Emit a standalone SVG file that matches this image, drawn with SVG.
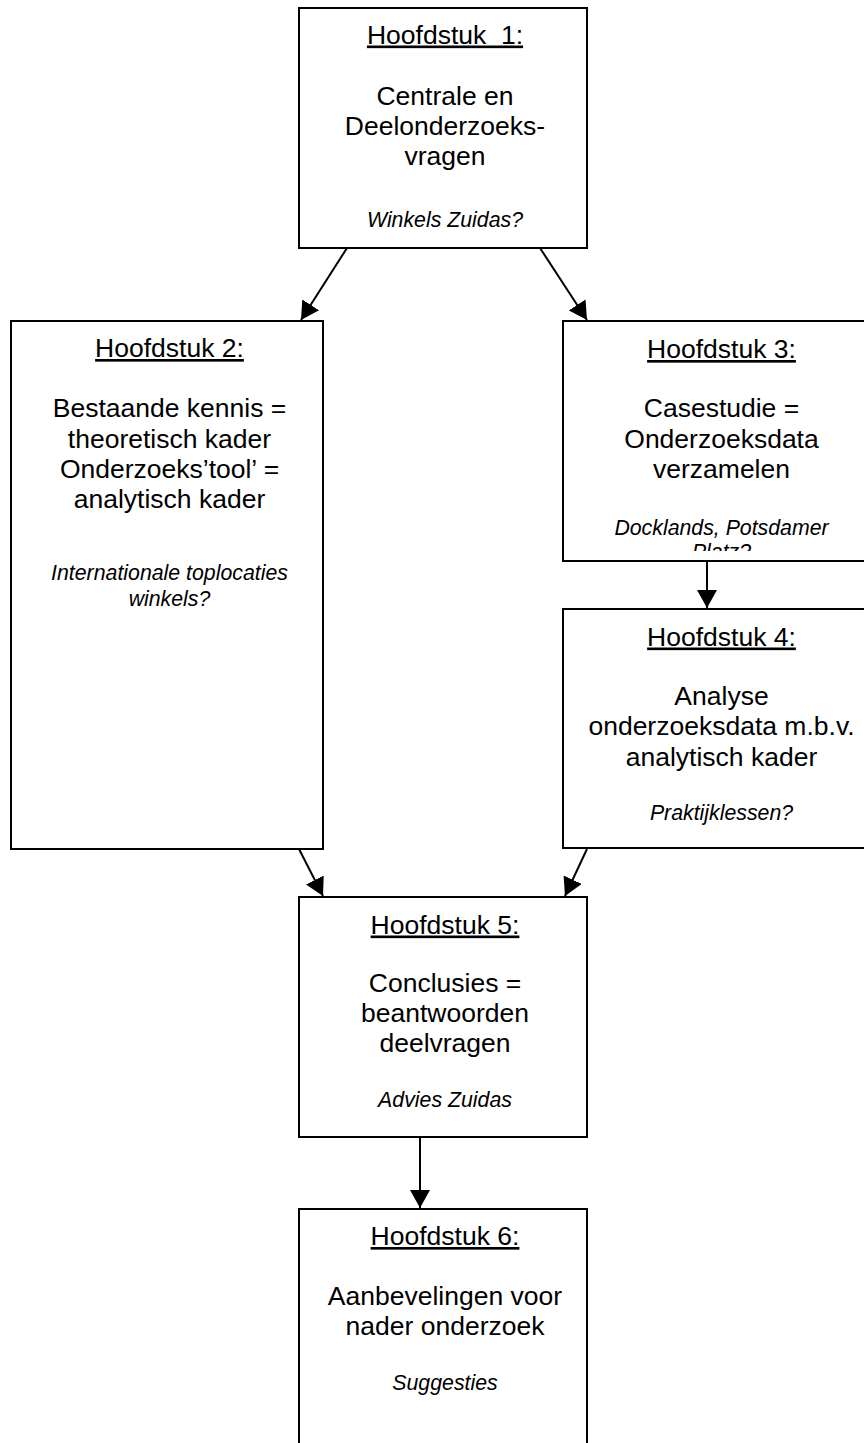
<svg xmlns="http://www.w3.org/2000/svg" width="864" height="1443" viewBox="0 0 864 1443">
<style>
.box{fill:#fff;stroke:#000;stroke-width:2}
.t{font-family:"Liberation Sans",Arial,sans-serif;font-size:26.5px;text-anchor:middle;fill:#000}
.h{text-decoration:underline;white-space:pre}
.i{font-family:"Liberation Sans",Arial,sans-serif;font-size:21.3px;font-style:italic;text-anchor:middle;fill:#000}
.c{stroke:#000;stroke-width:2;fill:none;marker-end:url(#ah)}
</style>
<defs>
<marker id="ah" markerUnits="userSpaceOnUse" markerWidth="18" markerHeight="20" refX="18" refY="10" orient="auto">
<path d="M0,0 L18,10 L0,20 z" fill="#000"/>
</marker>
<clipPath id="clip3"><rect x="563" y="321" width="320" height="230"/></clipPath>
</defs>
<rect width="864" height="1443" fill="#fff"/>
<g id="connectors">
<line class="c" x1="347" y1="248" x2="301" y2="320"/>
<line class="c" x1="540" y1="248" x2="587" y2="320"/>
<line class="c" x1="707" y1="561" x2="707" y2="608"/>
<line class="c" x1="299" y1="849" x2="323" y2="896"/>
<line class="c" x1="587" y1="849" x2="565" y2="896"/>
<line class="c" x1="420" y1="1137" x2="420" y2="1208"/>
</g>
<g id="node1">
<rect class="box" x="299" y="8" width="288" height="240"/>
<text class="t h" x="445" y="43.5">Hoofdstuk  1:</text>
<text class="t" x="445" y="105">Centrale en</text>
<text class="t" x="445" y="135">Deelonderzoeks-</text>
<text class="t" x="445" y="164.5">vragen</text>
<text class="i" x="445" y="226.5">Winkels Zuidas?</text>
</g>
<g id="node2">
<rect class="box" x="11" y="321" width="312" height="528"/>
<text class="t h" x="169.5" y="357">Hoofdstuk 2:</text>
<text class="t" x="169.5" y="417">Bestaande kennis =</text>
<text class="t" x="169.5" y="447.5">theoretisch kader</text>
<text class="t" x="169.5" y="477.5">Onderzoeks’tool’ =</text>
<text class="t" x="169.5" y="508">analytisch kader</text>
<text class="i" x="169.5" y="580">Internationale toplocaties</text>
<text class="i" x="169.5" y="605.5">winkels?</text>
</g>
<g id="node3">
<rect class="box" x="563" y="321" width="316" height="240"/>
<g clip-path="url(#clip3)">
<text class="t h" x="721.5" y="358">Hoofdstuk 3:</text>
<text class="t" x="721.5" y="417">Casestudie =</text>
<text class="t" x="721.5" y="447.5">Onderzoeksdata</text>
<text class="t" x="721.5" y="478">verzamelen</text>
<text class="i" x="721.5" y="535">Docklands, Potsdamer</text>
<text class="i" x="721.5" y="559">Platz?</text>
</g>
</g>
<g id="node4">
<rect class="box" x="563" y="609" width="316" height="239"/>
<text class="t h" x="721.5" y="645.5">Hoofdstuk 4:</text>
<text class="t" x="721.5" y="705">Analyse</text>
<text class="t" x="721.5" y="735">onderzoeksdata m.b.v.</text>
<text class="t" x="721.5" y="765.5">analytisch kader</text>
<text class="i" x="721.5" y="820">Praktijklessen?</text>
</g>
<g id="node5">
<rect class="box" x="299" y="897" width="288" height="240"/>
<text class="t h" x="445" y="933.5">Hoofdstuk 5:</text>
<text class="t" x="445" y="992">Conclusies =</text>
<text class="t" x="445" y="1022">beantwoorden</text>
<text class="t" x="445" y="1052">deelvragen</text>
<text class="i" x="445" y="1106.5">Advies Zuidas</text>
</g>
<g id="node6">
<rect class="box" x="299" y="1209" width="288" height="260"/>
<text class="t h" x="445" y="1245">Hoofdstuk 6:</text>
<text class="t" x="445" y="1305">Aanbevelingen voor</text>
<text class="t" x="445" y="1335">nader onderzoek</text>
<text class="i" x="445" y="1390">Suggesties</text>
</g>
</svg>
